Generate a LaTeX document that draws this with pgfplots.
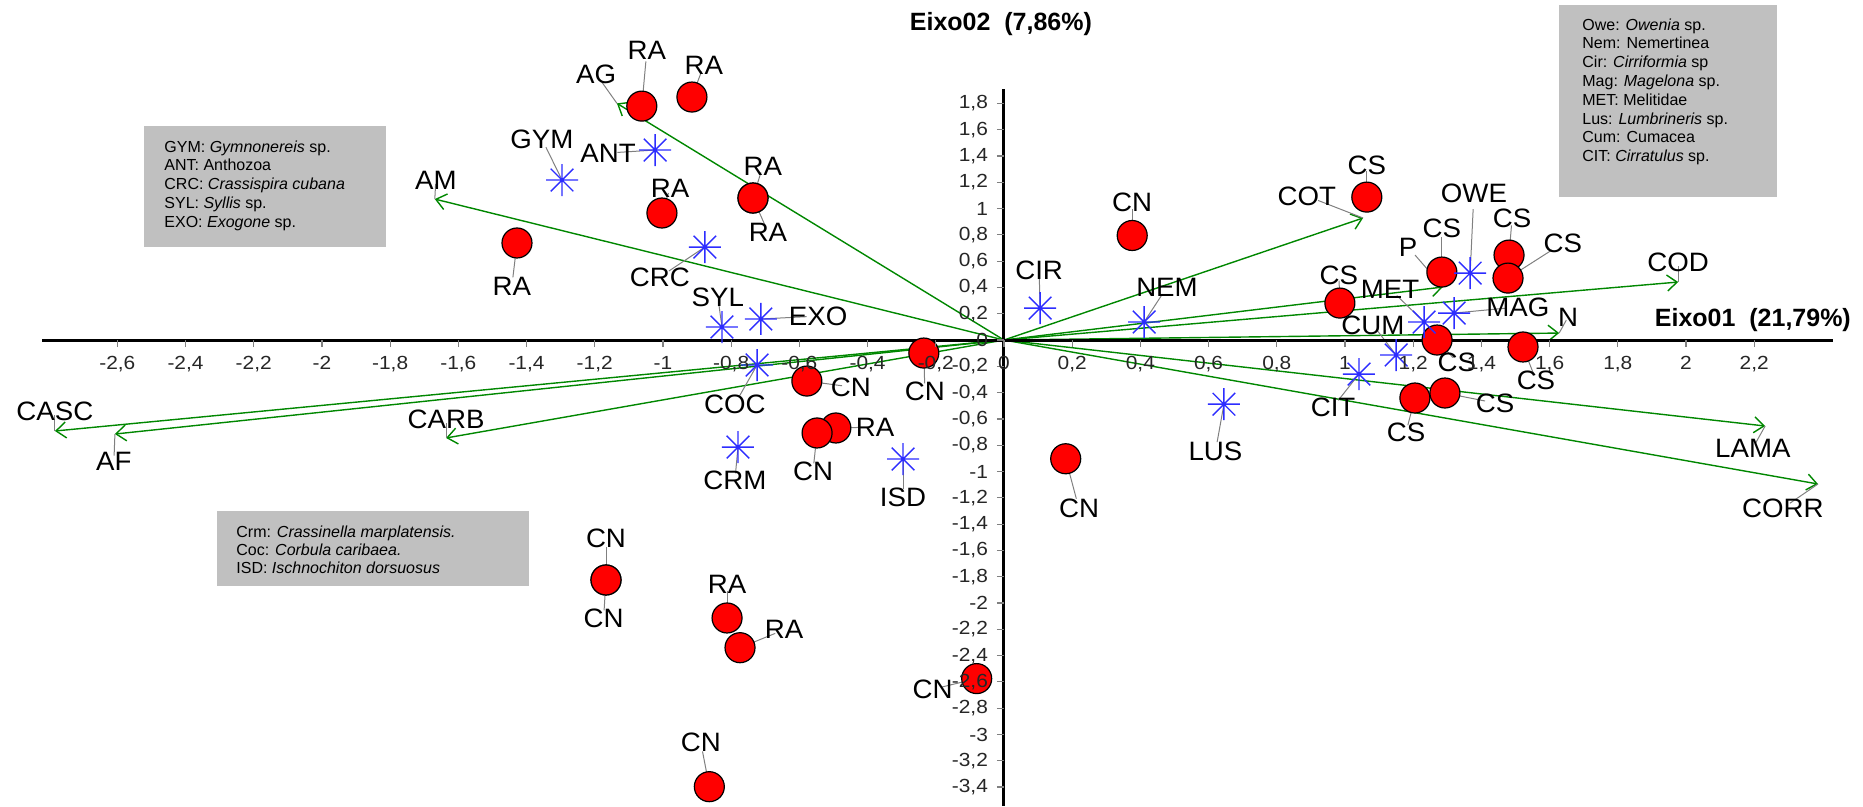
\documentclass[border=0pt]{standalone}
\usepackage{fontspec}
\setmainfont{Liberation Sans}
\newfontfamily\labfam[FakeStretch=1.04]{Liberation Sans}
\newfontfamily\tickfam[FakeStretch=1.1]{Liberation Sans}
\usepackage{pgfplots}
\pgfplotsset{compat=1.18}
\usepackage{pgfplotstable}
\usetikzlibrary{arrows.meta}
\definecolor{envgreen}{RGB}{0,135,0}
\definecolor{spblue}{RGB}{45,45,255}
\definecolor{boxgray}{RGB}{192,192,192}
\newcommand{\labfont}{\labfam\fontsize{13.3}{15}\selectfont}
\pgfdeclareplotmark{ast8}{%
  \pgfpathmoveto{\pgfqpoint{-\pgfplotmarksize}{0pt}}\pgfpathlineto{\pgfqpoint{\pgfplotmarksize}{0pt}}%
  \pgfpathmoveto{\pgfqpoint{0pt}{-\pgfplotmarksize}}\pgfpathlineto{\pgfqpoint{0pt}{\pgfplotmarksize}}%
  \pgfpathmoveto{\pgfqpoint{-0.707\pgfplotmarksize}{-0.707\pgfplotmarksize}}\pgfpathlineto{\pgfqpoint{0.707\pgfplotmarksize}{0.707\pgfplotmarksize}}%
  \pgfpathmoveto{\pgfqpoint{-0.707\pgfplotmarksize}{0.707\pgfplotmarksize}}\pgfpathlineto{\pgfqpoint{0.707\pgfplotmarksize}{-0.707\pgfplotmarksize}}%
  \pgfusepathqstroke}

\pgfplotstableread{
x y lx ly lab
-1.062 1.779 -1.047 2.205 RA
-0.915 1.848 -0.880 2.091 RA
-0.736 1.080 -0.707 1.323 RA
-0.736 1.080 -0.692 0.821 RA
-1.003 0.966 -0.979 1.156 RA
-1.428 0.738 -1.443 0.411 RA
-0.493 -0.669 -0.378 -0.662 RA
-0.812 -2.114 -0.812 -1.861 RA
-0.774 -2.340 -0.645 -2.204 RA
1.064 1.087 1.064 1.331 CS
0.985 0.281 0.982 0.494 CS
1.284 0.517 1.284 0.852 CS
1.481 0.646 1.490 0.928 CS
1.478 0.471 1.639 0.738 CS
1.270 0.000 1.328 -0.167 CS
1.522 -0.053 1.560 -0.304 CS
1.205 -0.441 1.179 -0.700 CS
1.293 -0.403 1.440 -0.479 CS
0.376 0.795 0.376 1.048 CN
-0.235 -0.099 -0.232 -0.388 CN
-0.578 -0.312 -0.449 -0.357 CN
-0.548 -0.707 -0.560 -0.996 CN
0.181 -0.903 0.220 -1.283 CN
-1.167 -1.825 -1.167 -1.509 CN
-1.167 -1.825 -1.174 -2.114 CN
-0.080 -2.575 -0.209 -2.656 CN
-0.864 -3.397 -0.889 -3.062 CN
}\sites

\pgfplotstableread{
x y lx ly lab
-1.296 1.217 -1.355 1.529 GYM
-1.023 1.445 -1.161 1.422 ANT
-0.877 0.707 -1.009 0.479 CRC
-0.827 0.099 -0.839 0.327 SYL
-0.713 0.160 -0.545 0.182 EXO
-0.724 -0.190 -0.789 -0.487 COC
-0.780 -0.814 -0.789 -1.065 CRM
-0.296 -0.905 -0.296 -1.194 ISD
0.106 0.243 0.103 0.532 CIR
0.411 0.137 0.478 0.403 NEM
0.645 -0.488 0.620 -0.849 LUS
1.367 0.509 1.378 1.118 OWE
1.232 0.137 1.132 0.388 MET
1.320 0.205 1.507 0.251 MAG
1.150 -0.114 1.082 0.114 CUM
1.041 -0.259 0.965 -0.509 CIT
}\species

\pgfplotstableread{
x y lx ly lab
-1.135 1.800 -1.196 2.023 AG
-1.669 1.072 -1.666 1.217 AM
-2.783 -0.692 -2.783 -0.540 CASC
-2.607 -0.715 -2.610 -0.920 AF
-1.636 -0.745 -1.636 -0.601 CARB
1.053 0.928 0.888 1.095 COT
1.977 0.441 1.977 0.593 COD
1.628 0.053 1.654 0.175 N
1.287 0.403 1.185 0.707 P
2.232 -0.654 2.196 -0.821 LAMA
2.387 -1.095 2.284 -1.278 CORR
}\env

\begin{document}
\begin{tikzpicture}
\begin{axis}[
  width=931.5pt, height=403pt, scale only axis,
  xmin=-2.944, xmax=2.519, ymin=-3.544, ymax=2.586,
  axis lines=middle, axis line style={draw=none},
  set layers=axis on top, clip=false,
  xtick={-2.6,-2.4,-2.2,-2,-1.8,-1.6,-1.4,-1.2,-1,-0.8,-0.6,-0.4,-0.2,0,0.2,0.4,0.6,0.8,1,1.2,1.4,1.6,1.8,2,2.2},
  ytick={-3.4,-3.2,-3,-2.8,-2.6,-2.4,-2.2,-2,-1.8,-1.6,-1.4,-1.2,-1,-0.8,-0.6,-0.4,-0.2,0,0.2,0.4,0.6,0.8,1,1.2,1.4,1.6,1.8},
  hide obscured x ticks=false, hide obscured y ticks=false,
  tick align=outside, major tick length=3.5pt,
  tick style={gray, line width=0.6pt},
  /pgf/number format/assume math mode=true,
  /pgf/number format/use comma,
  /pgf/number format/fixed,
  /pgf/number format/precision=1,
  ticklabel style={font=\tickfam\fontsize{9.5}{10}\selectfont, text=black!85},
  y tick label style={xshift=-1pt},
  x tick label style={yshift=-1pt},
]
% legend boxes
\fill[boxgray] (axis cs:1.628,2.548) rectangle (axis cs:2.267,1.087);
\fill[boxgray] (axis cs:-2.522,1.627) rectangle (axis cs:-1.812,0.707);
\fill[boxgray] (axis cs:-2.308,-1.300) rectangle (axis cs:-1.393,-1.870);
\node[anchor=north west, align=left, inner sep=0pt, font=\fontsize{8}{9.4}\selectfont] at (axis cs:1.695,2.449)
 {Owe: \textit{Owenia} sp.\\ Nem: Nemertinea\\ Cir: \textit{Cirriformia} sp\\ Mag: \textit{Magelona} sp.\\ MET: Melitidae\\ Lus: \textit{Lumbrineris} sp.\\ Cum: Cumacea\\ CIT: \textit{Cirratulus} sp.};
\node[anchor=north west, align=left, inner sep=0pt, font=\fontsize{8}{9.4}\selectfont] at (axis cs:-2.463,1.521)
 {GYM: \textit{Gymnonereis} sp.\\ ANT: Anthozoa\\ CRC: \textit{Crassispira cubana}\\ SYL: \textit{Syllis} sp.\\ EXO: \textit{Exogone} sp.};
\node[anchor=north west, align=left, inner sep=0pt, font=\fontsize{8}{9.2}\selectfont] at (axis cs:-2.252,-1.407)
 {Crm: \textit{Crassinella marplatensis.}\\ Coc: \textit{Corbula caribaea.}\\ ISD: \textit{Ischnochiton dorsuosus}};

% sites
\addplot[only marks, mark=*, mark size=7.5pt, mark options={fill=red, draw=black, line width=0.6pt}] table[x=x,y=y] {\sites};
% species
\addplot[only marks, mark=ast8, mark size=8pt, mark options={draw=spblue, line width=0.7pt}] table[x=x,y=y] {\species};
% environmental arrows
\addplot[envgreen, line width=0.7pt, -{Straight Barb[length=5pt,width=8pt]}, quiver={u=\thisrow{x}, v=\thisrow{y}}] table[x expr=0, y expr=0] {\env};
% leader lines
\addplot[gray, line width=0.5pt, quiver={u={0.8*((\thisrow{lx})-(\thisrow{x}))}, v={0.8*((\thisrow{ly})-(\thisrow{y}))}}] table[x=x,y=y] {\sites};
\addplot[gray, line width=0.5pt, quiver={u={0.8*((\thisrow{lx})-(\thisrow{x}))}, v={0.8*((\thisrow{ly})-(\thisrow{y}))}}] table[x=x,y=y] {\species};
\addplot[gray, line width=0.5pt, quiver={u={0.8*((\thisrow{lx})-(\thisrow{x}))}, v={0.8*((\thisrow{ly})-(\thisrow{y}))}}] table[x=x,y=y] {\env};
% labels
\addplot[draw=none, nodes near coords, point meta=explicit symbolic, nodes near coords style={anchor=center, inner sep=0pt, font=\labfont, text=black}] table[x=lx,y=ly,meta=lab] {\sites};
\addplot[draw=none, nodes near coords, point meta=explicit symbolic, nodes near coords style={anchor=center, inner sep=0pt, font=\labfont, text=black}] table[x=lx,y=ly,meta=lab] {\species};
\addplot[draw=none, nodes near coords, point meta=explicit symbolic, nodes near coords style={anchor=center, inner sep=0pt, font=\labfont, text=black}] table[x=lx,y=ly,meta=lab] {\env};

% main axes lines
\draw[line width=1.5pt] (axis cs:-2.82,0) -- (axis cs:2.431,0);
\draw[line width=1.5pt] (axis cs:0,1.909) -- (axis cs:0,-3.544);

\node[font=\bfseries\fontsize{12.5}{14}\selectfont] at (axis cs:-0.009,2.403) {Eixo02\ \ (7,86\%)};
\node[font=\bfseries\fontsize{12.5}{14}\selectfont] at (axis cs:2.196,0.152) {Eixo01\ \ (21,79\%)};
\end{axis}
\pgfresetboundingbox
\useasboundingbox (current axis.south west) rectangle (current axis.north east);
\end{tikzpicture}
\end{document}
